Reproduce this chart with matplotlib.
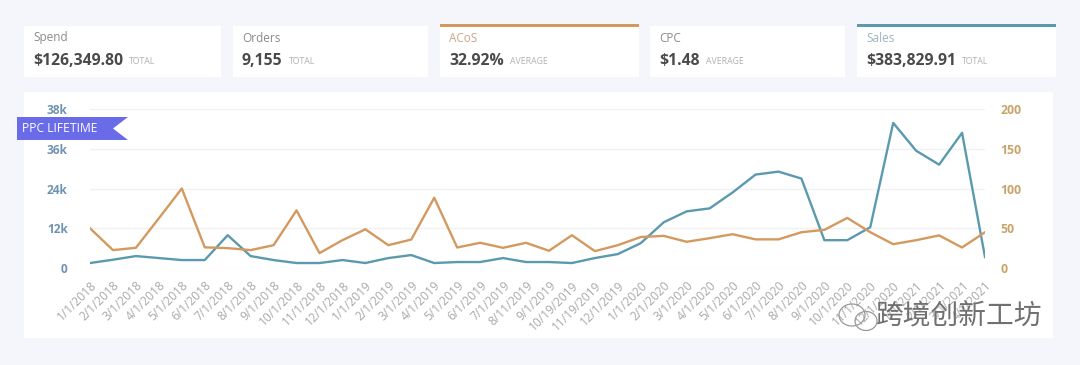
import matplotlib
matplotlib.use("Agg")
import matplotlib.pyplot as plt
from matplotlib.patches import Rectangle, Polygon, Ellipse

plt.rcParams['font.family'] = ['Open Sans', 'DejaVu Sans']

# ---------------- data ----------------
dates = ["1/1/2018", "2/1/2018", "3/1/2018", "4/1/2018", "5/1/2018", "6/1/2018",
         "7/1/2018", "8/1/2018", "9/1/2018", "10/1/2018", "11/1/2018", "12/1/2018",
         "1/1/2019", "2/1/2019", "3/1/2019", "4/1/2019", "5/1/2019", "6/1/2019",
         "7/1/2019", "8/11/2019", "9/1/2019", "10/19/2019", "11/19/2019", "12/1/2019",
         "1/1/2020", "2/1/2020", "3/1/2020", "4/1/2020", "5/1/2020", "6/1/2020",
         "7/1/2020", "8/1/2020", "9/1/2020", "10/1/2020", "11/1/2020", "12/1/2020",
         "1/1/2021", "2/1/2021", "3/1/2021", "4/1/2021"]

sales = [1500, 2500, 3600, 3000, 2400, 2400, 9900, 3600, 2400, 1500, 1500, 2400,
         1500, 3000, 3900, 1500, 1800, 1800, 3000, 1800, 1800, 1500, 3000, 4200,
         7500, 13800, 17100, 18000, 22800, 28200, 29100, 27000, 8400, 8400, 12300,
         43800, 35400, 31200, 40800, 3300]

acos = [50, 22.5, 25.4, 62.5, 100, 26, 25, 22.5, 28.7, 72.5, 18.7, 35,
        48.7, 28.7, 35.8, 88.4, 25.8, 31.7, 25.4, 31.7, 21.7, 41.2, 21.2, 28.7,
        39, 40.4, 33, 37.5, 42.5, 36, 36, 45, 48, 63, 45, 30, 35, 41, 25.8, 45]

left_ticks = [0, 12000, 24000, 36000, 48000]
left_labels = ["0", "12k", "24k", "36k", "38k"]
right_ticks = [0, 50, 100, 150, 200]
right_labels = ["0", "50", "100", "150", "200"]

kpi_titles = ["Spend", "Orders", "ACoS", "CPC", "Sales"]
kpi_values = ["$126,349.80", "9,155", "32.92%", "$1.48", "$383,829.91"]
kpi_units = ["TOTAL", "TOTAL", "AVERAGE", "AVERAGE", "TOTAL"]

# ---------------- style ----------------
W, H = 1080, 365
BG = "#f5f6fb"
BLUE = "#5b9aae"
ORANGE = "#d3995e"
LEFT_TXT = "#6f93b3"
RIGHT_TXT = "#c9a468"

fig = plt.figure(figsize=(W / 100, H / 100), dpi=100)
fig.patch.set_facecolor(BG)

def fx(x):
    return x / W

def fy(y):
    return 1 - y / H

r = fig.canvas.get_renderer()

# KPI cards
cards_x = [(24, 221), (233, 428), (440, 639), (650, 845), (857, 1056)]
top_colors = [None, None, ORANGE, None, BLUE]
for (x0, x1), t, v, u, c in zip(cards_x, kpi_titles, kpi_values, kpi_units, top_colors):
    fig.patches.append(Rectangle((fx(x0), fy(77)), fx(x1 - x0), (77 - 26) / H,
                                 transform=fig.transFigure, facecolor="white",
                                 edgecolor="none", zorder=-2))
    if c is not None:
        fig.patches.append(Rectangle((fx(x0), fy(27)), fx(x1 - x0), 2.6 / H,
                                     transform=fig.transFigure, facecolor=c,
                                     edgecolor="none", zorder=-1))
    tc = "#c9a48a" if t == "ACoS" else ("#9fb3bf" if t == "Sales" else "#8a8a8a")
    fig.text(fx(x0 + 9), fy(38), t, fontsize=8.5, color=tc, va="center", ha="left")
    tv = fig.text(fx(x0 + 9), fy(61), v, fontsize=11.3, fontweight="bold",
                  color="#4a4a4a", va="center", ha="left")
    bb = tv.get_window_extent(renderer=r)
    fig.text((bb.x1 + 6) / W, fy(62), u, fontsize=6.3, color="#b0b0b0",
             va="center", ha="left")

# chart panel
fig.patches.append(Rectangle((fx(24), fy(338)), fx(1053 - 24), (338 - 92) / H,
                             transform=fig.transFigure, facecolor="white",
                             edgecolor="none", zorder=-3))

ax = fig.add_axes([fx(90), fy(268), fx(985 - 90), (268 - 109) / H])
ax.set_facecolor("none")
x = list(range(len(dates)))
ax.plot(x, sales, color=BLUE, lw=1.7, zorder=3)
ax.set_xlim(0, len(dates) - 1)
ax.set_ylim(0, 48000)
ax.set_yticks(left_ticks)
ax.set_yticklabels(left_labels)
ax.set_xticks(x)
ax.set_xticklabels(dates, rotation=45, ha="right", rotation_mode="anchor")
ax.tick_params(axis="x", labelsize=8.6, colors="#a8a8a8", length=0, pad=8)
ax.tick_params(axis="y", labelsize=8.6, colors=LEFT_TXT, length=0, pad=16)
for lab in ax.get_yticklabels():
    lab.set_fontweight("bold")
for s in ax.spines.values():
    s.set_visible(False)
ax.grid(axis="y", color="#f1f1f3", lw=1)
ax.set_axisbelow(True)

ax2 = ax.twinx()
ax2.plot(x, acos, color=ORANGE, lw=1.7, zorder=2)
ax2.set_ylim(0, 200)
ax2.set_yticks(right_ticks)
ax2.set_yticklabels(right_labels)
ax2.tick_params(axis="y", labelsize=8.8, colors=RIGHT_TXT, length=0, pad=11)
for lab in ax2.get_yticklabels():
    lab.set_fontweight("bold")
for s in ax2.spines.values():
    s.set_visible(False)

# PPC LIFETIME ribbon
rib = Polygon([(fx(17), fy(117)), (fx(128), fy(117)), (fx(113), fy(128.5)),
               (fx(128), fy(140)), (fx(17), fy(140))], closed=True,
              transform=fig.transFigure, facecolor="#6a6be8", edgecolor="none",
              zorder=5)
fig.patches.append(rib)
fig.text(fx(22), fy(128.5), "PPC LIFETIME", fontsize=8.7, color="white",
         va="center", ha="left", zorder=6)

# watermark
fig.patches.append(Ellipse((fx(852), fy(315)), 26 / W, 22 / H, transform=fig.transFigure,
                           facecolor="none", edgecolor="#9a9a9a", lw=0.9, zorder=6))
fig.patches.append(Ellipse((fx(866), fy(321)), 22 / W, 19 / H, transform=fig.transFigure,
                           facecolor="none", edgecolor="#9a9a9a", lw=0.9, zorder=6))
fig.text(fx(876), fy(317), "跨境创新工坊", fontsize=20, color="#707070",
         fontweight="light",
         family=["Noto Sans CJK SC", "DejaVu Sans"], va="center", ha="left", zorder=6)

fig.savefig("out.png", dpi=100, facecolor=BG)
